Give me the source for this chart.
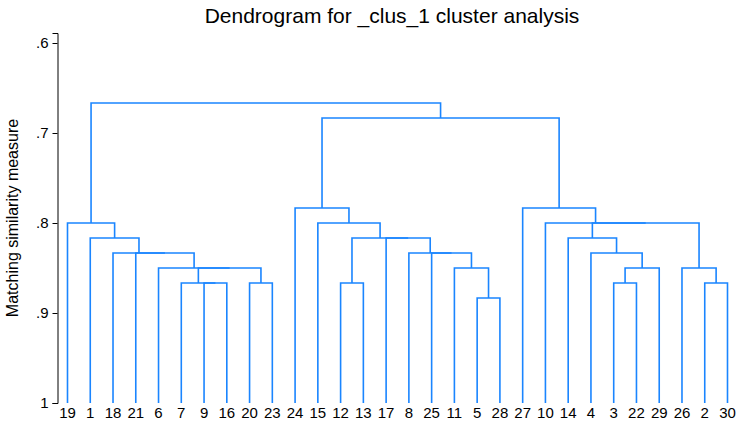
<!DOCTYPE html>
<html>
<head>
<meta charset="utf-8">
<script src="https://cdn.jsdelivr.net/npm/d3@7"></script>
<style>
  body { margin: 0; background: #fff; }
  text { font-family: 'Liberation Sans', Arial, sans-serif; fill: #000; }
</style>
</head>
<body>
<div id="chart"></div>
<script>
// leaf order along the bottom
let leaves = [19, 1, 18, 21, 6, 7, 9, 16, 20, 23, 24, 15, 12, 13, 17, 8, 25, 11, 5, 28, 27, 10, 14, 4, 3, 22, 29, 26, 2, 30]

// merges: [id, left child, right child, similarity]
let leftMerges = [
  ['a1', 9, 16, 0.8667],
  ['a2', 7, 'a1', 0.8667],
  ['a3', 20, 23, 0.8667],
  ['a4', 'a2', 'a3', 0.85],
  ['a5', 6, 'a4', 0.85],
  ['a6', 21, 'a5', 0.8333],
  ['a7', 18, 'a6', 0.8333],
  ['a8', 1, 'a7', 0.8167],
  ['a9', 19, 'a8', 0.8]
]
let middleMerges = [
  ['b1', 5, 28, 0.8833],
  ['b2', 11, 'b1', 0.85],
  ['b3', 25, 'b2', 0.8333],
  ['b4', 8, 'b3', 0.8333],
  ['b5', 17, 'b4', 0.8167],
  ['b6', 12, 13, 0.8667],
  ['b7', 'b6', 'b5', 0.8167],
  ['b8', 15, 'b7', 0.8],
  ['b9', 24, 'b8', 0.7833]
]
let rightMerges = [
  ['c1', 3, 22, 0.8667],
  ['c2', 'c1', 29, 0.85],
  ['c3', 4, 'c2', 0.8333],
  ['c4', 14, 'c3', 0.8167],
  ['c5', 2, 30, 0.8667],
  ['c6', 26, 'c5', 0.85],
  ['c7', 'c4', 'c6', 0.8],
  ['c8', 10, 'c7', 0.8],
  ['c9', 27, 'c8', 0.7833]
]
let topMerges = [
  ['d1', 'b9', 'c9', 0.6833],
  ['root', 'a9', 'd1', 0.6667]
]

let yTicks = [0.6, 0.7, 0.8, 0.9, 1]

let width = 740
let height = 422

let svg = d3
  .select('#chart')
  .append('svg')
  .attr('width', width)
  .attr('height', height)

let xPositionScale = d3
  .scalePoint()
  .domain(leaves)
  .range([67.5, 727.5])

let yPositionScale = d3
  .scaleLinear()
  .domain([0.6 - 10 / 900, 1])
  .range([33, 403])

// position + height of every leaf and node
let pos = {}
leaves.forEach(d => {
  pos[d] = { x: xPositionScale(d), v: 1 }
})

let merges = leftMerges.concat(middleMerges, rightMerges, topMerges)
merges.forEach(m => {
  let a = pos[m[1]]
  let b = pos[m[2]]
  pos[m[0]] = { x: (a.x + b.x) / 2, v: m[3] }
})

svg
  .selectAll('.link')
  .data(merges)
  .enter()
  .append('path')
  .attr('class', 'link')
  .attr('d', m => {
    let a = pos[m[1]]
    let b = pos[m[2]]
    return (
      'M' + a.x + ',' + yPositionScale(a.v) +
      'V' + yPositionScale(m[3]) +
      'H' + b.x +
      'V' + yPositionScale(b.v)
    )
  })
  .attr('fill', 'none')
  .attr('stroke', '#1a85ff')
  .attr('stroke-width', 1.6)

let yAxis = d3
  .axisLeft(yPositionScale)
  .tickValues(yTicks)
  .tickSizeOuter(0)
  .tickSize(5)
  .tickPadding(4)
  .tickFormat(d => (d === 1 ? '1' : String(d).replace('0.', '.')))

svg
  .append('g')
  .attr('class', 'axis y-axis')
  .attr('transform', 'translate(57.5,0)')
  .call(yAxis)
  .call(g => g.selectAll('text').attr('font-size', 15).attr('font-family', "'Liberation Sans', Arial, sans-serif").attr('fill', '#000'))
  .call(g => g.selectAll('line, path').attr('stroke', '#000'))

svg
  .selectAll('.leaf-label')
  .data(leaves)
  .enter()
  .append('text')
  .attr('class', 'leaf-label')
  .attr('x', d => xPositionScale(d))
  .attr('y', 418)
  .attr('text-anchor', 'middle')
  .attr('font-size', 15)
  .text(d => d)

svg
  .append('text')
  .attr('x', 392)
  .attr('y', 23)
  .attr('text-anchor', 'middle')
  .attr('font-size', 21)
  .text('Dendrogram for _clus_1 cluster analysis')

svg
  .append('text')
  .attr('transform', 'translate(18,218) rotate(-90)')
  .attr('text-anchor', 'middle')
  .attr('font-size', 16)
  .text('Matching similarity measure')
</script>
</body>
</html>
